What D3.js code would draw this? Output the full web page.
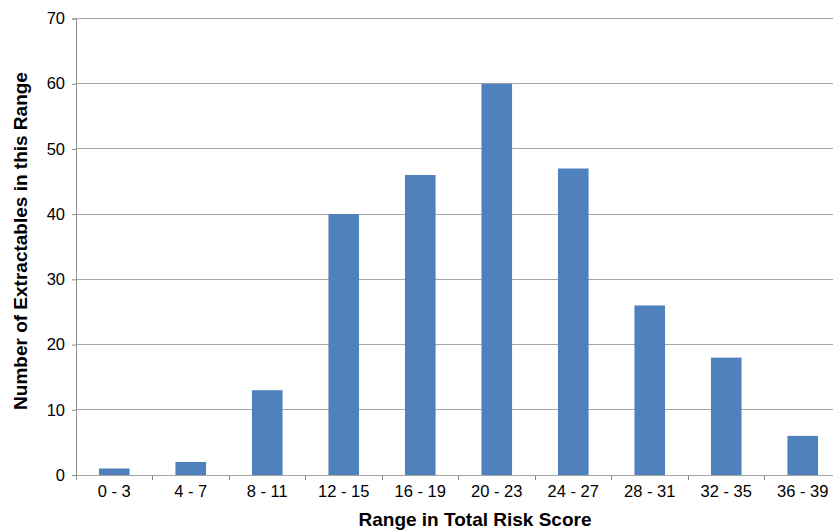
<!DOCTYPE html>
<html><head><meta charset="utf-8">
<script src="https://cdn.jsdelivr.net/npm/d3@7"></script>
<style>body{margin:0;background:#fff}svg{display:block}text{font-family:"Liberation Sans",Arial,Helvetica,sans-serif}</style>
</head><body>
<svg id="c" width="833" height="531"></svg>
<script>
const categories = ["0 - 3","4 - 7","8 - 11","12 - 15","16 - 19","20 - 23","24 - 27","28 - 31","32 - 35","36 - 39"];
const counts = [1,2,13,40,46,60,47,26,18,6];
const yTicks = [0,10,20,30,40,50,60,70];
const xTitle = "Range in Total Risk Score";
const yTitle = "Number of Extractables in this Range";

const svg = d3.select("#c");
const pLeft = 76, pRight = 841, pTop = 18.5, pBottom = 475;
const x = d3.scaleBand().domain(categories).range([pLeft, pRight]).paddingInner(0.6).paddingOuter(0.3);
const y = d3.scaleLinear().domain([0,70]).range([pBottom, pTop]);

// gridlines
svg.append("g").selectAll("line").data(yTicks.filter(d=>d>0)).join("line")
  .attr("x1", pLeft).attr("x2", 833).attr("y1", d=>y(d)).attr("y2", d=>y(d))
  .attr("stroke", "#a6a6a6").attr("stroke-width", 1).attr("shape-rendering","crispEdges");

// bars
svg.append("g").selectAll("rect").data(counts).join("rect")
  .attr("x", (d,i)=>x(categories[i])).attr("width", x.bandwidth())
  .attr("y", d=>y(d)).attr("height", d=>pBottom - y(d))
  .attr("fill", "#4f81bd");

// y axis
const yAxis = svg.append("g").attr("transform", `translate(${pLeft},0)`)
  .call(d3.axisLeft(y).tickValues(yTicks).tickSize(4).tickPadding(7));
yAxis.select(".domain").attr("stroke", "#8c8c8c");
yAxis.selectAll(".tick line").attr("stroke", "#8c8c8c");
yAxis.selectAll("text").attr("font-size", 16.5).attr("fill", "#000").style("font-family", '"Liberation Sans",Arial,sans-serif');

// x axis
const step = x.step();
const bounds = d3.range(categories.length + 1).map(i => pLeft + i*step);
const xg = svg.append("g");
xg.append("line").attr("x1", pLeft).attr("x2", 833).attr("y1", pBottom).attr("y2", pBottom)
  .attr("stroke", "#a6a6a6").attr("shape-rendering","crispEdges");
xg.selectAll("line.t").data(bounds).join("line").attr("class","t")
  .attr("x1", d=>d).attr("x2", d=>d).attr("y1", pBottom).attr("y2", pBottom+5)
  .attr("stroke", "#8c8c8c").attr("shape-rendering","crispEdges");
xg.selectAll("text").data(categories).join("text")
  .attr("x", d=>x(d)+x.bandwidth()/2).attr("y", 497)
  .attr("text-anchor","middle").attr("font-size", 16.5).attr("fill","#000").text(d=>d);

// titles
svg.append("text").attr("x", 475).attr("y", 526).attr("text-anchor","middle")
  .attr("font-size", 19).attr("font-weight","bold").text(xTitle);
svg.append("text").attr("transform", "translate(27,241) rotate(-90)").attr("text-anchor","middle")
  .attr("font-size", 19).attr("font-weight","bold").text(yTitle);
</script>
</body></html>
